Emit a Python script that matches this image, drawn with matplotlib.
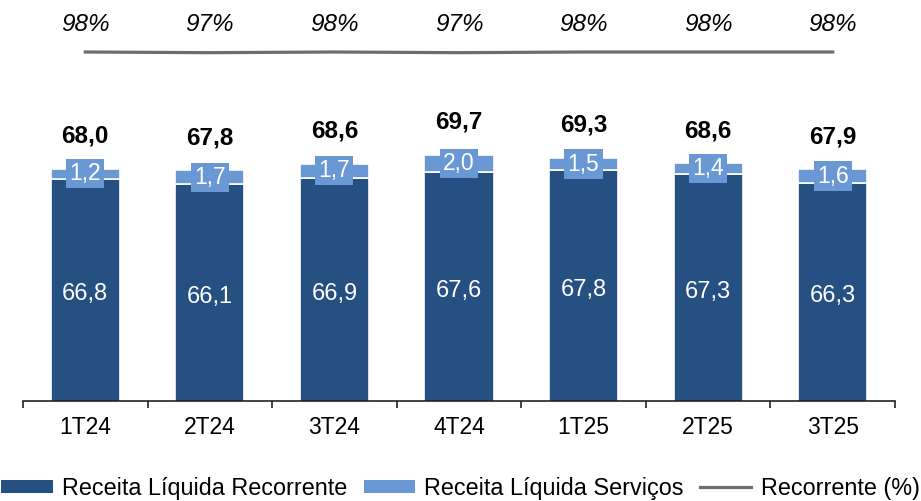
import matplotlib
matplotlib.use("Agg")
import matplotlib.pyplot as plt
import numpy as np
from matplotlib.patches import Patch
from matplotlib.lines import Line2D

plt.rcParams["font.family"] = ["Liberation Sans", "DejaVu Sans"]

# dados
trimestres = ["1T24", "2T24", "3T24", "4T24", "1T25", "2T25", "3T25"]
recorrente = [66.8, 66.1, 66.9, 67.6, 67.8, 67.3, 66.3]
servicos = [1.2, 1.7, 1.7, 2.0, 1.5, 1.4, 1.6]
totais = [68.0, 67.8, 68.6, 69.7, 69.3, 68.6, 67.9]
pct_recorrente = [98, 97, 98, 97, 98, 98, 98]

cor_escura = "#264F82"
cor_clara = "#6A98D4"
cor_linha = "#6E6E6E"


def br(v):
    return f"{v:.1f}".replace(".", ",")


fig = plt.figure(figsize=(9.21, 5.01), dpi=100)
ax = fig.add_axes([23 / 921, 100 / 501, 872 / 921, 391 / 501])

x = np.arange(len(trimestres))
largura = 0.554

ax.bar(x, recorrente, largura, bottom=0, color=cor_escura, edgecolor="white", linewidth=1.2)
ax.bar(x, servicos, largura, bottom=recorrente, color=cor_clara, edgecolor="white", linewidth=1.2)

ax.set_ylim(40, 40 + 391 / 8.3)
ax.set_xlim(-0.5, len(trimestres) - 0.5)

# rotulos
for i in range(len(x)):
    ax.text(x[i], 39.5 + (recorrente[i] - 40) / 2, br(recorrente[i]), ha="center", va="center",
            color="white", fontsize=17)
    ax.text(x[i], recorrente[i] + servicos[i] / 2, br(servicos[i]), ha="center", va="center",
            color="white", fontsize=16.5,
            bbox=dict(boxstyle="square,pad=0.14", facecolor=cor_clara, edgecolor="none"))
    ax.annotate(br(totais[i]), (x[i], totais[i]), xytext=(0, 23.5), textcoords="offset points",
                ha="center", va="center", fontsize=17.5, fontweight="bold", color="black")

# linha de recorrente (%)
ax2 = ax.twinx()
ax2.plot(x, pct_recorrente, color=cor_linha, linewidth=2.3)
ax2.set_ylim(98 - 349 * 1.5, 98 + 42 * 1.5)
ax2.axis("off")
for i in range(len(x)):
    ax.text(x[i], 0.962, f"{pct_recorrente[i]}%", transform=ax.get_xaxis_transform(),
            ha="center", va="center", fontsize=17.5, style="italic")

for s in ["top", "left", "right"]:
    ax.spines[s].set_visible(False)
ax.spines["bottom"].set_color("#222222")
ax.spines["bottom"].set_linewidth(1.2)
ax.set_yticks([])
ax.set_xticks(x)
ax.set_xticklabels(trimestres, fontsize=16.5)
ax.tick_params(axis="x", which="major", length=0, pad=11)
ax.set_xticks(np.arange(-0.5, len(trimestres)), minor=True)
ax.tick_params(axis="x", which="minor", length=5, width=1.2, color="#222222", direction="out")

handles = [
    Patch(facecolor=cor_escura, label="Receita Líquida Recorrente"),
    Patch(facecolor=cor_clara, label="Receita Líquida Serviços"),
    Line2D([0], [0], color=cor_linha, linewidth=2.3, label="Recorrente (%)"),
]
fig.legend(handles=handles, loc="lower center", bbox_to_anchor=(0.5, -0.03), ncol=3,
           frameon=False, fontsize=16.8, handlelength=2.2, handleheight=0.45,
           handletextpad=0.4, columnspacing=0.7, borderpad=0.2)

fig.savefig("out.png", dpi=100)
